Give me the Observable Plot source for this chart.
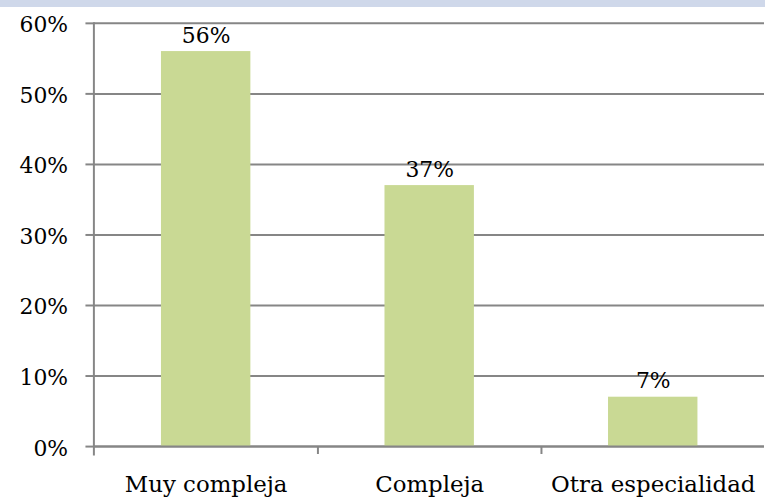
<!DOCTYPE html>
<html>
<head>
<meta charset="utf-8">
<script src="https://cdn.jsdelivr.net/npm/d3@7"></script>
<script src="https://cdn.jsdelivr.net/npm/@observablehq/plot@0.6"></script>
<style>
  html, body { margin: 0; padding: 0; background: #fff; overflow: hidden; width: 765px; height: 499px; }
  #wrap { position: relative; width: 765px; height: 499px; overflow: hidden; }
  #band { position: absolute; left: 0; top: 0; width: 765px; height: 7px; background: #cfd8ea; }
  #chart { position: absolute; left: 0; top: 0; }
</style>
</head>
<body>
<div id="wrap"><div id="chart"></div><div id="band"></div></div>
<script>
const categories = ["Muy compleja", "Compleja", "Otra especialidad"];
const values = [0.56, 0.37, 0.07];
const yTicks = [0, 0.1, 0.2, 0.3, 0.4, 0.5, 0.6];

const data = categories.map((c, i) => ({cat: c, val: values[i]}));

const W = 770, ML = 94, MR = 1;
const halfStep = (W - ML - MR) / categories.length / 2;
const grid = "#868686";
const fmt = d3.format(".0%");

const chart = Plot.plot({
  width: W,
  height: 499,
  marginLeft: ML,
  marginRight: MR,
  marginTop: 23,
  marginBottom: 50,
  style: {fontFamily: "DejaVu Serif", fontSize: "22px", color: "#000", background: "transparent", overflow: "visible"},
  x: {domain: categories, paddingInner: 0.6, paddingOuter: 0.3},
  y: {domain: [0, 0.6]},
  marks: [
    Plot.gridY(yTicks, {stroke: grid, strokeOpacity: 1, strokeWidth: 2}),
    Plot.barY(data, {x: "cat", y: "val", fill: "#c9d994"}),
    Plot.ruleY([0], {stroke: grid, strokeWidth: 2}),
    Plot.frame({anchor: "left", stroke: grid, strokeWidth: 2, insetBottom: -8}),
    Plot.ruleX(categories.slice(0, -1), {x: d => d, dx: halfStep, y1: 0, y2: 0, insetBottom: -8, stroke: grid, strokeWidth: 2}),
    Plot.axisY(yTicks, {tickFormat: () => "", tickSize: 8, stroke: grid, strokeWidth: 2, label: null}),
    Plot.axisY(yTicks, {tickFormat: fmt, tickSize: 0, tickPadding: 26, dy: 2, label: null, fill: "#000"}),
    Plot.axisX({tickSize: 0, tickPadding: 29, fontSize: 23, label: null, fill: "#000"}),
    Plot.text(data, {x: "cat", y: "val", text: d => fmt(d.val), dy: -9, lineAnchor: "bottom", fill: "#000"})
  ]
});
document.getElementById("chart").appendChild(chart);
</script>
</body>
</html>
